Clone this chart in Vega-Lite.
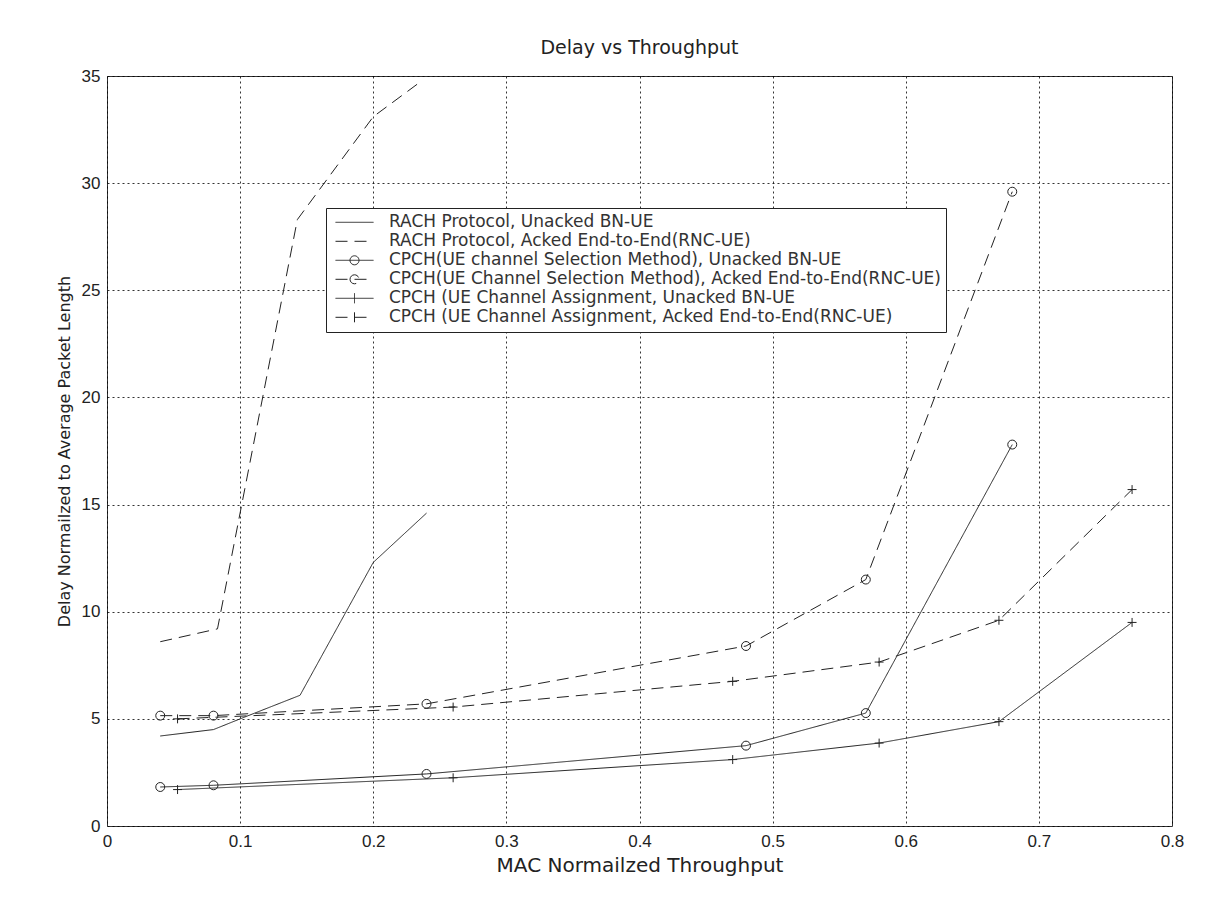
{
  "$schema": "https://vega.github.io/schema/vega-lite/v6.json",
  "autosize": "none",
  "width": 1065,
  "height": 750,
  "padding": {"left": 107, "top": 76, "right": 50, "bottom": 97},
  "background": "white",
  "title": {"text": "Delay vs Throughput", "font": "DejaVu Sans", "fontSize": 19, "fontWeight": "normal", "color": "#222", "offset": 9},
  "config": {
    "view": {"stroke": "#333", "strokeWidth": 1},
    "axis": {
      "grid": true, "gridColor": "#000", "gridDash": [2, 3], "gridOpacity": 0.8, "gridWidth": 1,
      "domain": false, "ticks": false,
      "labelFont": "Liberation Sans", "labelFontSize": 17, "labelColor": "#222",
      "titleFont": "DejaVu Sans", "titleFontSize": 16, "titleColor": "#222", "titleFontWeight": "normal"
    },
    "legend": {"labelLimit": 0}
  },
  "data": {"values": [
    {"series": "RACH Protocol, Unacked BN-UE", "x": 0.04, "y": 4.2},
    {"series": "RACH Protocol, Unacked BN-UE", "x": 0.08, "y": 4.5},
    {"series": "RACH Protocol, Unacked BN-UE", "x": 0.1, "y": 5.0},
    {"series": "RACH Protocol, Unacked BN-UE", "x": 0.145, "y": 6.1},
    {"series": "RACH Protocol, Unacked BN-UE", "x": 0.2, "y": 12.3},
    {"series": "RACH Protocol, Unacked BN-UE", "x": 0.24, "y": 14.6},
    {"series": "RACH Protocol, Acked End-to-End(RNC-UE)", "x": 0.04, "y": 8.6},
    {"series": "RACH Protocol, Acked End-to-End(RNC-UE)", "x": 0.083, "y": 9.2},
    {"series": "RACH Protocol, Acked End-to-End(RNC-UE)", "x": 0.143, "y": 28.3},
    {"series": "RACH Protocol, Acked End-to-End(RNC-UE)", "x": 0.2, "y": 33.1},
    {"series": "RACH Protocol, Acked End-to-End(RNC-UE)", "x": 0.237, "y": 34.8},
    {"series": "CPCH(UE channel Selection Method), Unacked BN-UE", "x": 0.04, "y": 1.82},
    {"series": "CPCH(UE channel Selection Method), Unacked BN-UE", "x": 0.08, "y": 1.9},
    {"series": "CPCH(UE channel Selection Method), Unacked BN-UE", "x": 0.24, "y": 2.43},
    {"series": "CPCH(UE channel Selection Method), Unacked BN-UE", "x": 0.48, "y": 3.75},
    {"series": "CPCH(UE channel Selection Method), Unacked BN-UE", "x": 0.57, "y": 5.27},
    {"series": "CPCH(UE channel Selection Method), Unacked BN-UE", "x": 0.68, "y": 17.8},
    {"series": "CPCH(UE Channel Selection Method), Acked End-to-End(RNC-UE)", "x": 0.04, "y": 5.15},
    {"series": "CPCH(UE Channel Selection Method), Acked End-to-End(RNC-UE)", "x": 0.08, "y": 5.15},
    {"series": "CPCH(UE Channel Selection Method), Acked End-to-End(RNC-UE)", "x": 0.24, "y": 5.7},
    {"series": "CPCH(UE Channel Selection Method), Acked End-to-End(RNC-UE)", "x": 0.48, "y": 8.4},
    {"series": "CPCH(UE Channel Selection Method), Acked End-to-End(RNC-UE)", "x": 0.57, "y": 11.5},
    {"series": "CPCH(UE Channel Selection Method), Acked End-to-End(RNC-UE)", "x": 0.68, "y": 29.6},
    {"series": "CPCH (UE Channel Assignment, Unacked BN-UE", "x": 0.053, "y": 1.7},
    {"series": "CPCH (UE Channel Assignment, Unacked BN-UE", "x": 0.26, "y": 2.25},
    {"series": "CPCH (UE Channel Assignment, Unacked BN-UE", "x": 0.47, "y": 3.1},
    {"series": "CPCH (UE Channel Assignment, Unacked BN-UE", "x": 0.58, "y": 3.87},
    {"series": "CPCH (UE Channel Assignment, Unacked BN-UE", "x": 0.67, "y": 4.87},
    {"series": "CPCH (UE Channel Assignment, Unacked BN-UE", "x": 0.77, "y": 9.5},
    {"series": "CPCH (UE Channel Assignment, Acked End-to-End(RNC-UE)", "x": 0.053, "y": 5.0},
    {"series": "CPCH (UE Channel Assignment, Acked End-to-End(RNC-UE)", "x": 0.26, "y": 5.55},
    {"series": "CPCH (UE Channel Assignment, Acked End-to-End(RNC-UE)", "x": 0.47, "y": 6.75},
    {"series": "CPCH (UE Channel Assignment, Acked End-to-End(RNC-UE)", "x": 0.58, "y": 7.65},
    {"series": "CPCH (UE Channel Assignment, Acked End-to-End(RNC-UE)", "x": 0.67, "y": 9.6},
    {"series": "CPCH (UE Channel Assignment, Acked End-to-End(RNC-UE)", "x": 0.77, "y": 15.7}
  ]},
  "encoding": {
    "x": {"field": "x", "type": "quantitative", "scale": {"domain": [0, 0.8], "nice": false, "zero": false},
      "axis": {"title": "MAC Normailzed Throughput", "titleFontSize": 20, "values": [0, 0.1, 0.2, 0.3, 0.4, 0.5, 0.6, 0.7, 0.8], "format": "~g", "labelFlush": false, "labelPadding": 7, "titlePadding": 6}},
    "y": {"field": "y", "type": "quantitative", "scale": {"domain": [0, 35], "nice": false},
      "axis": {"title": "Delay Normailzed to Average Packet Length", "values": [0, 5, 10, 15, 20, 25, 30, 35], "labelPadding": 7, "titlePadding": 9}}
  },
  "layer": [
    {
      "mark": {"type": "line", "stroke": "#222", "strokeWidth": 1},
      "encoding": {
        "strokeDash": {"field": "series", "type": "nominal",
          "scale": {
            "domain": ["RACH Protocol, Unacked BN-UE", "RACH Protocol, Acked End-to-End(RNC-UE)", "CPCH(UE channel Selection Method), Unacked BN-UE", "CPCH(UE Channel Selection Method), Acked End-to-End(RNC-UE)", "CPCH (UE Channel Assignment, Unacked BN-UE", "CPCH (UE Channel Assignment, Acked End-to-End(RNC-UE)"],
            "range": [[1, 0], [12, 7], [1, 0], [12, 7], [1, 0], [12, 7]]
          },
          "legend": {
            "title": null, "orient": "none", "legendX": 219, "legendY": 132,
            "strokeColor": "#222", "fillColor": "white", "padding": 5,
            "labelFont": "DejaVu Sans", "labelFontSize": 17, "labelColor": "#333",
            "symbolStrokeColor": "#222", "symbolStrokeWidth": 1, "symbolSize": 64,
            "clipHeight": 18.6, "labelOffset": 41, "rowPadding": 0,
            "encode": {"symbols": {"update": {
              "shape": {"signal": "indexof(datum.value,'Assignment')>=0 ? 'M3.75,-1.25V1.25M-1,0H8.5' : (indexof(datum.value,'Selection')>=0 ? 'M2.625,0A1.125,1.125,0,1,1,4.875,0A1.125,1.125,0,1,1,2.625,0M-1,0H8.5' : 'M-1,0H8.5')"},
              "stroke": {"value": "#222"},
              "fill": {"value": "transparent"}
            }}}
          }
        }
      }
    },
    {
      "transform": [{"filter": {"field": "series", "oneOf": ["CPCH(UE channel Selection Method), Unacked BN-UE", "CPCH(UE Channel Selection Method), Acked End-to-End(RNC-UE)", "CPCH (UE Channel Assignment, Unacked BN-UE", "CPCH (UE Channel Assignment, Acked End-to-End(RNC-UE)"]}}],
      "mark": {"type": "point", "filled": false, "stroke": "#222", "strokeWidth": 1, "size": 80, "opacity": 1},
      "encoding": {
        "shape": {"field": "series", "type": "nominal",
          "scale": {
            "domain": ["CPCH(UE channel Selection Method), Unacked BN-UE", "CPCH(UE Channel Selection Method), Acked End-to-End(RNC-UE)", "CPCH (UE Channel Assignment, Unacked BN-UE", "CPCH (UE Channel Assignment, Acked End-to-End(RNC-UE)"],
            "range": ["circle", "circle", "M-1,0H1M0,-1V1", "M-1,0H1M0,-1V1"]
          },
          "legend": null
        }
      }
    }
  ]
}
